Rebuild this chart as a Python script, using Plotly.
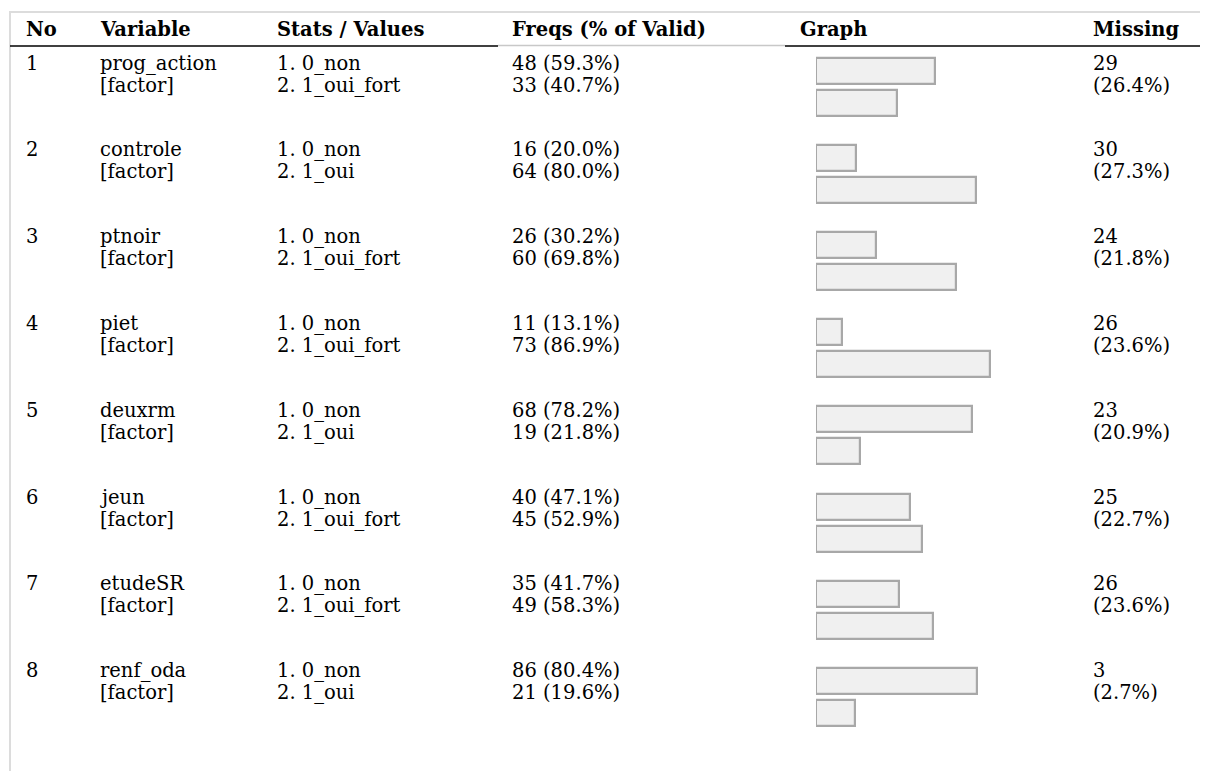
import plotly.graph_objects as go

# ---- data ----
variables = ["prog_action", "controle", "ptnoir", "piet", "deuxrm", "jeun", "etudeSR", "renf_oda"]
var_types = ["[factor]"] * 8
level1 = ["1. 0_non"] * 8
level2 = ["2. 1_oui_fort", "2. 1_oui", "2. 1_oui_fort", "2. 1_oui_fort",
          "2. 1_oui", "2. 1_oui_fort", "2. 1_oui_fort", "2. 1_oui"]
count1 = [48, 16, 26, 11, 68, 40, 35, 86]
pct1 = [59.3, 20.0, 30.2, 13.1, 78.2, 47.1, 41.7, 80.4]
count2 = [33, 64, 60, 73, 19, 45, 49, 21]
pct2 = [40.7, 80.0, 69.8, 86.9, 21.8, 52.9, 58.3, 19.6]
missing_n = [29, 30, 24, 26, 23, 25, 26, 3]
missing_pct = [26.4, 27.3, 21.8, 23.6, 20.9, 22.7, 23.6, 2.7]
headers = ["No", "Variable", "Stats / Values", "Freqs (% of Valid)", "Graph", "Missing"]

# ---- layout constants (screen pixels) ----
W, H = 1208, 771
OFF = 8  # page body margin
col_x = [24, 98, 275, 510, 798, 1091]
FONT = "DejaVu Serif"
FS = 19.5
header_y = 29
row0_y = 63
row_pitch = 86.8
line_gap = 22
bar0_top = 57
bar_pitch = 87.1
bar_h = 26
bar_gap = 32
bar_left = 816
bar_full = 200  # pixels for 100%

fig = go.Figure()

# bars (x axis in percent)
for j, pcts in enumerate([pct1, pct2]):
    ys = [bar0_top + bar_pitch * i + bar_gap * j + 14 for i in range(len(variables))]
    fig.add_trace(go.Bar(
        x=pcts, y=ys, orientation="h", width=bar_h,
        marker=dict(color="#f0f0f0", line=dict(color="#a8a8a8", width=2.2)),
        xaxis="x", yaxis="y", hoverinfo="skip", showlegend=False,
    ))

ann = []
def txt(x, y, s, bold=False):
    ann.append(dict(x=x, y=y, xref="x2", yref="y", text=("<b>%s</b>" % s) if bold else s,
                    showarrow=False, xanchor="left", yanchor="middle",
                    font=dict(family=FONT, size=FS, color="#000000")))

for k, h in enumerate(headers):
    txt(col_x[k], header_y, h, bold=True)

for i, v in enumerate(variables):
    y1 = row0_y + row_pitch * i
    y2 = y1 + line_gap
    txt(col_x[0], y1, str(i + 1))
    txt(col_x[1], y1, v)
    txt(col_x[1], y2, var_types[i])
    txt(col_x[2], y1, level1[i])
    txt(col_x[2], y2, level2[i])
    txt(col_x[3], y1, "%d (%.1f%%)" % (count1[i], pct1[i]))
    txt(col_x[3], y2, "%d (%.1f%%)" % (count2[i], pct2[i]))
    txt(col_x[5], y1, str(missing_n[i]))
    txt(col_x[5], y2, "(%.1f%%)" % missing_pct[i])

shapes = [
    dict(type="line", xref="x2", yref="y", x0=10, x1=W + OFF, y0=12, y1=12, line=dict(color="#dcdcdc", width=2)),
    dict(type="line", xref="x2", yref="y", x0=10, x1=10, y0=11, y1=H + OFF, line=dict(color="#dcdcdc", width=2)),
    dict(type="line", xref="x2", yref="y", x0=10, x1=498, y0=46, y1=46, line=dict(color="#000000", width=1.5)),
    dict(type="line", xref="x2", yref="y", x0=498, x1=785, y0=45.5, y1=45.5, line=dict(color="#c8c8c8", width=1.5)),
    dict(type="line", xref="x2", yref="y", x0=785, x1=W + OFF, y0=46, y1=46, line=dict(color="#000000", width=1.5)),
]

fig.update_layout(
    width=W, height=H, margin=dict(l=0, r=0, t=0, b=0),
    paper_bgcolor="white", plot_bgcolor="rgba(0,0,0,0)",
    xaxis=dict(domain=[(bar_left - OFF) / W, (bar_left - OFF + bar_full) / W], range=[0, 100],
               visible=False, fixedrange=True),
    xaxis2=dict(domain=[0, 1], range=[OFF, W + OFF], visible=False, anchor="y", fixedrange=True),
    yaxis=dict(domain=[0, 1], range=[H + OFF, OFF], visible=False, fixedrange=True),
    annotations=ann, shapes=shapes, bargap=0,
)

fig.write_html("out.html")
